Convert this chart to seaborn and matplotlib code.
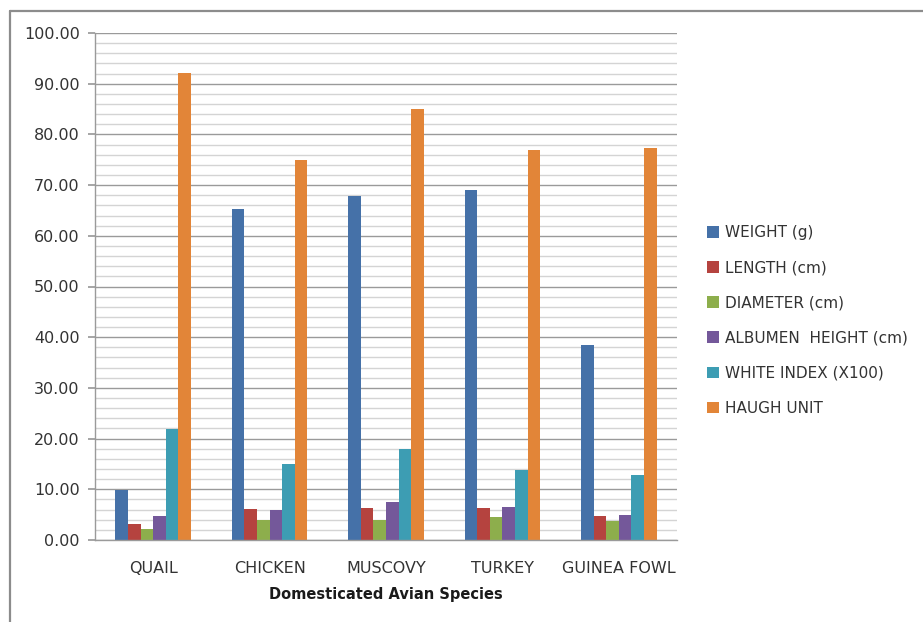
import matplotlib
matplotlib.use("Agg")
import matplotlib.pyplot as plt
import seaborn as sns
import pandas as pd
import numpy as np
from matplotlib.ticker import MultipleLocator, FormatStrFormatter
from matplotlib.lines import Line2D

species = ["QUAIL", "CHICKEN", "MUSCOVY", "TURKEY", "GUINEA FOWL"]
parameters = ["WEIGHT (g)", "LENGTH (cm)", "DIAMETER (cm)",
              "ALBUMEN  HEIGHT (cm)", "WHITE INDEX (X100)", "HAUGH UNIT"]
weight = [9.8, 65.3, 67.8, 69.0, 38.5]
length = [3.2, 6.1, 6.3, 6.3, 4.8]
diameter = [2.2, 4.0, 4.0, 4.6, 3.7]
albumen_height = [4.8, 6.0, 7.4, 6.5, 5.0]
white_index = [21.9, 15.0, 17.9, 13.9, 12.9]
haugh_unit = [92.2, 74.9, 85.1, 77.0, 77.4]
colors = ["#4571A8", "#B5433F", "#8DAE4C", "#74589A", "#3D9DB3", "#E28538"]

series = [weight, length, diameter, albumen_height, white_index, haugh_unit]
rows = []
for p, vals in zip(parameters, series):
    for s, v in zip(species, vals):
        rows.append({"Species": s, "Parameter": p, "Value": v})
df = pd.DataFrame(rows)

sns.set_theme(style="white")
plt.rcParams["font.family"] = ["DejaVu Sans"]

fig = plt.figure(figsize=(9.23, 6.22), dpi=100)
ax = fig.add_axes([95 / 923, 1 - 540 / 622, (677 - 95) / 923, (540 - 33) / 622])

sns.barplot(data=df, x="Species", y="Value", hue="Parameter", order=species,
            hue_order=parameters, palette=colors, width=0.65, gap=0,
            saturation=1, ax=ax, legend=True, linewidth=0, err_kws={"linewidth": 0})

ax.set_ylim(0, 100)
ax.set_xlim(-0.5, 4.5)
ax.yaxis.set_major_locator(MultipleLocator(10))
ax.yaxis.set_minor_locator(MultipleLocator(2))
ax.yaxis.set_major_formatter(FormatStrFormatter("%.2f"))
ax.grid(True, which="major", axis="y", color="#9a9a9a", linewidth=1.0, zorder=0)
ax.grid(True, which="minor", axis="y", color="#d4d4d4", linewidth=1.0, zorder=0)
ax.set_axisbelow(True)
for sp in ["top", "right"]:
    ax.spines[sp].set_visible(False)
for sp in ["left", "bottom"]:
    ax.spines[sp].set_color("#9a9a9a")
    ax.spines[sp].set_linewidth(1.0)
ax.tick_params(axis="y", which="major", left=True, length=5, color="#9a9a9a",
               labelsize=11.5, labelcolor="#333333", pad=6)
ax.tick_params(axis="y", which="minor", left=False)
ax.tick_params(axis="x", which="major", bottom=False, labelsize=11.5,
               labelcolor="#333333", pad=9)
ax.set_ylabel("")
ax.set_xlabel("Domesticated Avian Species", fontsize=10.5, fontweight="bold",
              color="#1a1a1a", labelpad=8)

leg = ax.legend(loc="center left", bbox_to_anchor=(707 / 923, 1 - 320.5 / 622),
                bbox_transform=fig.transFigure, frameon=False, fontsize=11,
                handlelength=0.8, handleheight=0.8, handletextpad=0.4,
                labelspacing=1.32, borderpad=0, borderaxespad=0)
for t in leg.get_texts():
    t.set_color("#333333")

fig.add_artist(Line2D([9.5 / 923, 1.0], [1 - 10.5 / 622, 1 - 10.5 / 622],
                      transform=fig.transFigure, color="#8c8c8c", linewidth=1.6))
fig.add_artist(Line2D([9.5 / 923, 9.5 / 923], [0, 1 - 10.5 / 622],
                      transform=fig.transFigure, color="#8c8c8c", linewidth=1.6))

fig.savefig("out.png", dpi=100)
